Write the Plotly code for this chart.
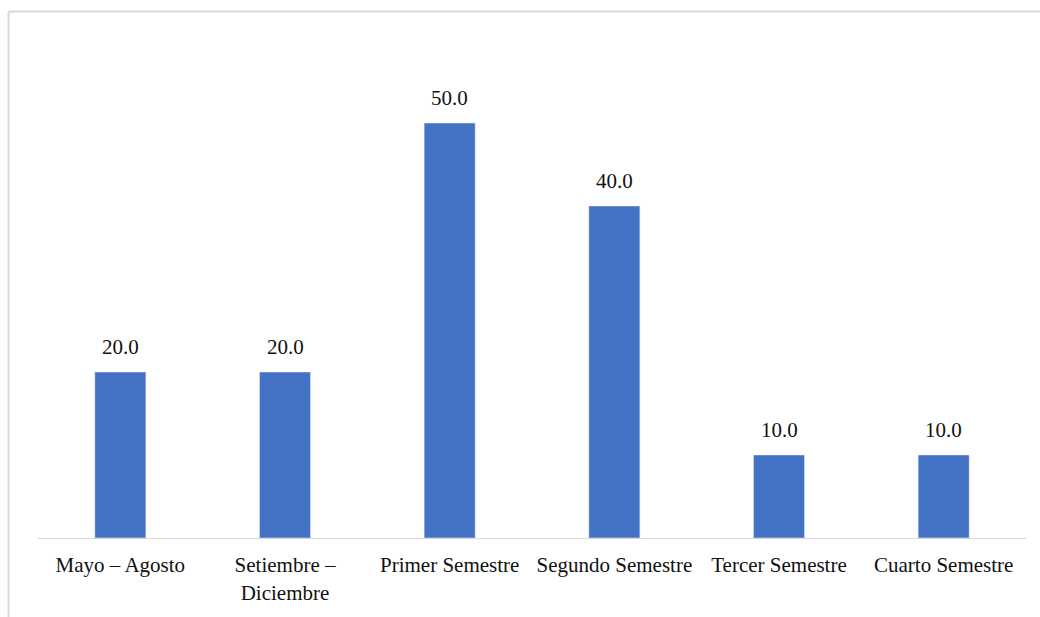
import plotly.graph_objects as go

categorias = ["Mayo – Agosto", "Setiembre –<br>Diciembre", "Primer Semestre",
              "Segundo Semestre", "Tercer Semestre", "Cuarto Semestre"]
valores = [20.0, 20.0, 50.0, 40.0, 10.0, 10.0]

W, H = 1040, 617
ml, mr, mt, mb = 38, 14, 40, 79
pw, ph = W - ml - mr, H - mt - mb

def px_x(x):
    return (x - ml) / pw

def px_y(y):
    return 1 - (y - mt) / ph

FONT = "Liberation Serif"

fig = go.Figure(go.Bar(
    x=categorias,
    y=valores,
    marker_color="#4472C4",
    width=0.31,
    cliponaxis=False,
))

# value labels above each bar
for c, v in zip(categorias, valores):
    fig.add_annotation(x=c, y=v, text=f"{v:.1f}", showarrow=False,
                       yanchor="bottom", yshift=11,
                       font=dict(family=FONT, size=21, color="#111111"))

fig.update_layout(
    width=W, height=H,
    margin=dict(l=ml, r=mr, t=mt, b=mb),
    plot_bgcolor="white", paper_bgcolor="white",
    showlegend=False,
    font=dict(family=FONT, size=21, color="#111111"),
    xaxis=dict(showline=True, linecolor="#d9d9d9", linewidth=1,
               ticks="", tickangle=0, showgrid=False, ticklabelstandoff=8),
    yaxis=dict(range=[0, 60], visible=False, showgrid=False),
    shapes=[
        dict(type="line", xref="paper", yref="paper",
             x0=px_x(8.5), x1=px_x(8.5), y0=px_y(H + 5), y1=px_y(11.5),
             line=dict(color="#d9d9d9", width=2)),
        dict(type="line", xref="paper", yref="paper",
             x0=px_x(8.5), x1=px_x(W + 5), y0=px_y(11.5), y1=px_y(11.5),
             line=dict(color="#d9d9d9", width=2)),
    ],
)

fig.write_html("out.html")
